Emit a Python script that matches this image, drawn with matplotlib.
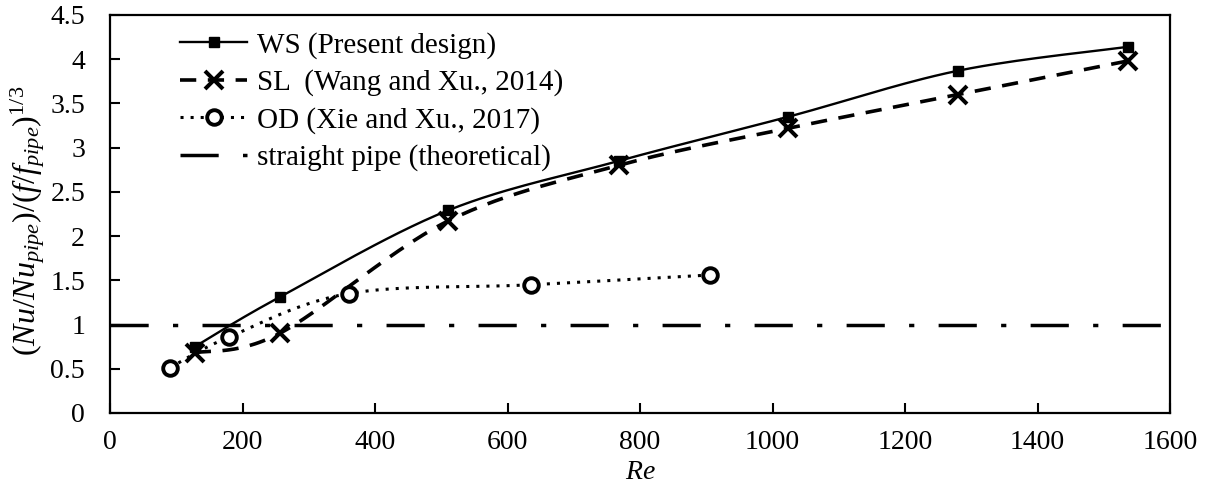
import numpy as np
import matplotlib
matplotlib.use("Agg")
import matplotlib.pyplot as plt
from matplotlib.lines import Line2D

# ---- data ----
ws_re = [128, 256, 510, 768, 1024, 1280, 1536]
ws_val = [0.75, 1.31, 2.29, 2.85, 3.35, 3.87, 4.14]
sl_re = [128, 256, 510, 768, 1024, 1280, 1536]
sl_val = [0.68, 0.90, 2.17, 2.80, 3.22, 3.60, 3.98]
od_re = [90, 180, 360, 635, 905]
od_val = [0.51, 0.86, 1.35, 1.45, 1.56]
pipe_re = [0, 1600]
pipe_val = [1.0, 1.0]

labels = ["WS (Present design)", "SL  (Wang and Xu., 2014)",
          "OD (Xie and Xu., 2017)", "straight pipe (theoretical)"]
xticks = [0, 200, 400, 600, 800, 1000, 1200, 1400, 1600]
yticks = [0, 0.5, 1, 1.5, 2, 2.5, 3, 3.5, 4, 4.5]
ytick_labels = ["0", "0.5", "1", "1.5", "2", "2.5", "3", "3.5", "4", "4.5"]

plt.rcParams['font.family'] = ['Liberation Serif', 'DejaVu Serif']
plt.rcParams['mathtext.fontset'] = 'custom'
plt.rcParams['mathtext.rm'] = 'Liberation Serif'
plt.rcParams['mathtext.it'] = 'Liberation Serif:italic'


def smooth(x, y, n=30):
    """Excel-like smoothed curve (Catmull-Rom / Bezier) through the points."""
    x = np.asarray(x, float)
    y = np.asarray(y, float)
    px = np.concatenate([[x[0]], x, [x[-1]]])
    py = np.concatenate([[y[0]], y, [y[-1]]])
    xs, ys = [], []
    t = np.linspace(0, 1, n)
    for i in range(1, len(px) - 2):
        p0 = np.array([px[i], py[i]])
        p3 = np.array([px[i + 1], py[i + 1]])
        c1 = p0 + (np.array([px[i + 1], py[i + 1]]) - np.array([px[i - 1], py[i - 1]])) / 6
        c2 = p3 - (np.array([px[i + 2], py[i + 2]]) - np.array([px[i], py[i]])) / 6
        b = ((1 - t) ** 3)[:, None] * p0 + (3 * (1 - t) ** 2 * t)[:, None] * c1 \
            + (3 * (1 - t) * t ** 2)[:, None] * c2 + (t ** 3)[:, None] * p3
        xs.extend(b[:, 0])
        ys.extend(b[:, 1])
    return np.array(xs), np.array(ys)


fig = plt.figure(figsize=(12.09, 5.03), dpi=100)
ax = fig.add_axes([110 / 1209, 90 / 503, 1060 / 1209, 398 / 503])

# straight pipe
ax.plot(pipe_re, pipe_val, color='black', lw=2.5, dashes=(11, 7, 1.5, 7),
        solid_capstyle='butt', dash_capstyle='butt')

# WS
sx, sy = smooth(ws_re, ws_val)
ax.plot(sx, sy, color='black', lw=1.7, solid_capstyle='butt')
ax.plot(ws_re, ws_val, ls='none', marker='s', ms=7.5, color='black')

# SL
sx, sy = smooth(sl_re, sl_val)
ax.plot(sx, sy, color='black', lw=2.6, dashes=(4.5, 3.2), dash_capstyle='butt')
ax.plot(sl_re, sl_val, ls='none', marker='x', ms=12.5, mew=2.9, color='black')

# OD
sx, sy = smooth(od_re, od_val)
ax.plot(sx, sy, color='black', lw=2.2, dashes=(1, 2.3), dash_capstyle='butt')
ax.plot(od_re, od_val, ls='none', marker='o', ms=10.5, mew=2.8,
        mfc='white', mec='black')

ax.set_xlim(0, 1600)
ax.set_ylim(0, 4.5)
ax.set_xticks(xticks)
ax.set_xticklabels([str(v) for v in xticks])
ax.set_yticks(yticks)
ax.set_yticklabels(ytick_labels)
ax.tick_params(axis='both', direction='in', length=7, width=1.5, labelsize=20)
ax.tick_params(axis='y', pad=18)
ax.tick_params(axis='x', pad=12)
for s in ax.spines.values():
    s.set_linewidth(1.6)

ax.set_xlabel('$Re$', fontsize=20, labelpad=4)
fig.text(28 / 1209, 1 - 221 / 503, r'$(Nu/Nu_{pipe})/(f/f_{pipe})^{1/3}$',
         rotation=90, ha='center', va='center', fontsize=23)

# legend
h = [
    Line2D([], [], color='black', lw=1.7, marker='s', ms=7.5),
    Line2D([], [], color='black', lw=2.6, dashes=(4.5, 3.2), marker='x', ms=12.5, mew=2.9),
    Line2D([], [], color='black', lw=2.2, dashes=(1, 2.3), marker='o', ms=10.5, mew=2.8,
           mfc='white', mec='black'),
    Line2D([], [], color='black', lw=2.5, dashes=(11, 7, 1.5, 7)),
]
leg = ax.legend(h, labels, loc='upper left', bbox_to_anchor=(180 / 1209, 1 - 32 / 503),
                bbox_transform=fig.transFigure, frameon=False, fontsize=21,
                handlelength=2.3, handletextpad=0.33, labelspacing=0.36,
                borderpad=0, borderaxespad=0)

fig.savefig('out.png', dpi=100)
